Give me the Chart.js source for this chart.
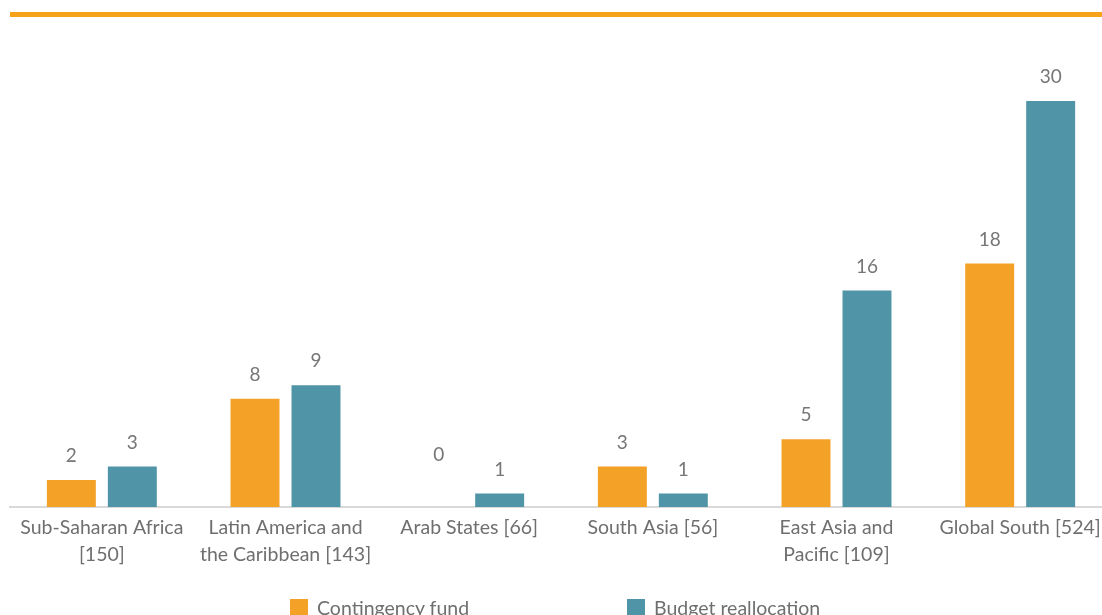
<!DOCTYPE html>
<html>
<head>
<meta charset="utf-8">
<script src="https://cdn.jsdelivr.net/npm/chart.js@4"></script>
<style>
  html, body { margin: 0; padding: 0; background: #fff; overflow: hidden; }
  #wrap { position: relative; width: 1102px; height: 615px; overflow: hidden; }
  #topline { position: absolute; left: 10px; top: 12px; width: 1092px; height: 5px; background: #F7A21B; }
  #box { position: absolute; left: 0; top: 0; width: 1112px; height: 615px; }
  #legend { position: absolute; top: 596px; left: 0; width: 1102px; font: 19.5px Lato, sans-serif; color: #6f6f6f; }
  .item { position: absolute; display: flex; align-items: center; white-space: nowrap; }
  .swatch { width: 18px; height: 18px; margin-right: 9px; }
</style>
</head>
<body>
<div id="wrap">
  <div id="topline"></div>
  <div id="box"><canvas id="chart" width="1112" height="615"></canvas></div>
  <div id="legend"></div>
</div>
<script>
// categories, with the respondent count shown on the second line
const categories = [
  ['Sub-Saharan Africa', '[150]'],
  ['Latin America and', 'the Caribbean [143]'],
  ['Arab States [66]'],
  ['South Asia [56]'],
  ['East Asia and', 'Pacific [109]'],
  ['Global South [524]']
];
const seriesNames = ['Contingency fund', 'Budget reallocation'];
const contingencyFund = [2, 8, 0, 3, 5, 18];
const budgetReallocation = [3, 9, 1, 1, 16, 30];
const colors = ['#F4A127', '#5094A7'];
const legendLeft = [290, 627];

// value labels above each bar
const valueLabels = {
  id: 'valueLabels',
  afterDatasetsDraw(chart) {
    const ctx = chart.ctx;
    ctx.save();
    ctx.font = '19px Lato, sans-serif';
    ctx.fillStyle = '#767676';
    ctx.textAlign = 'center';
    ctx.textBaseline = 'middle';
    chart.data.datasets.forEach((ds, di) => {
      chart.getDatasetMeta(di).data.forEach((bar, i) => {
        const off = ds.data[i] === 0 ? 52 : 24;
        ctx.fillText(ds.data[i], bar.x, bar.y - off);
      });
    });
    ctx.restore();
  }
};

const chart = new Chart(document.getElementById('chart'), {
  type: 'bar',
  data: {
    labels: categories,
    datasets: [
      { label: seriesNames[0], data: contingencyFund, backgroundColor: colors[0] },
      { label: seriesNames[1], data: budgetReallocation, backgroundColor: colors[1] }
    ]
  },
  options: {
    responsive: false,
    animation: false,
    categoryPercentage: 0.664,
    barPercentage: 0.803,
    layout: { padding: { left: 10, right: 0, top: 101, bottom: 8 } },
    plugins: { legend: { display: false }, tooltip: { enabled: false } },
    scales: {
      x: {
        grid: { display: false },
        border: { display: true, color: '#d9d9d9', width: 2 },
        ticks: {
          color: '#6f6f6f',
          font: { family: 'Lato, sans-serif', size: 19.5, lineHeight: 1.35 },
          padding: 0,
          maxRotation: 0,
          autoSkip: false
        },
        afterFit: s => { s.height = 100; }
      },
      y: {
        display: false,
        min: 0,
        max: 30
      }
    }
  },
  plugins: [valueLabels]
});

// legend built from the datasets
const legend = document.getElementById('legend');
chart.data.datasets.forEach((ds, i) => {
  const item = document.createElement('div');
  item.className = 'item';
  item.style.left = legendLeft[i] + 'px';
  item.innerHTML = '<span class="swatch" style="background:' + ds.backgroundColor + '"></span>' + ds.label;
  legend.appendChild(item);
});
</script>
</body>
</html>
